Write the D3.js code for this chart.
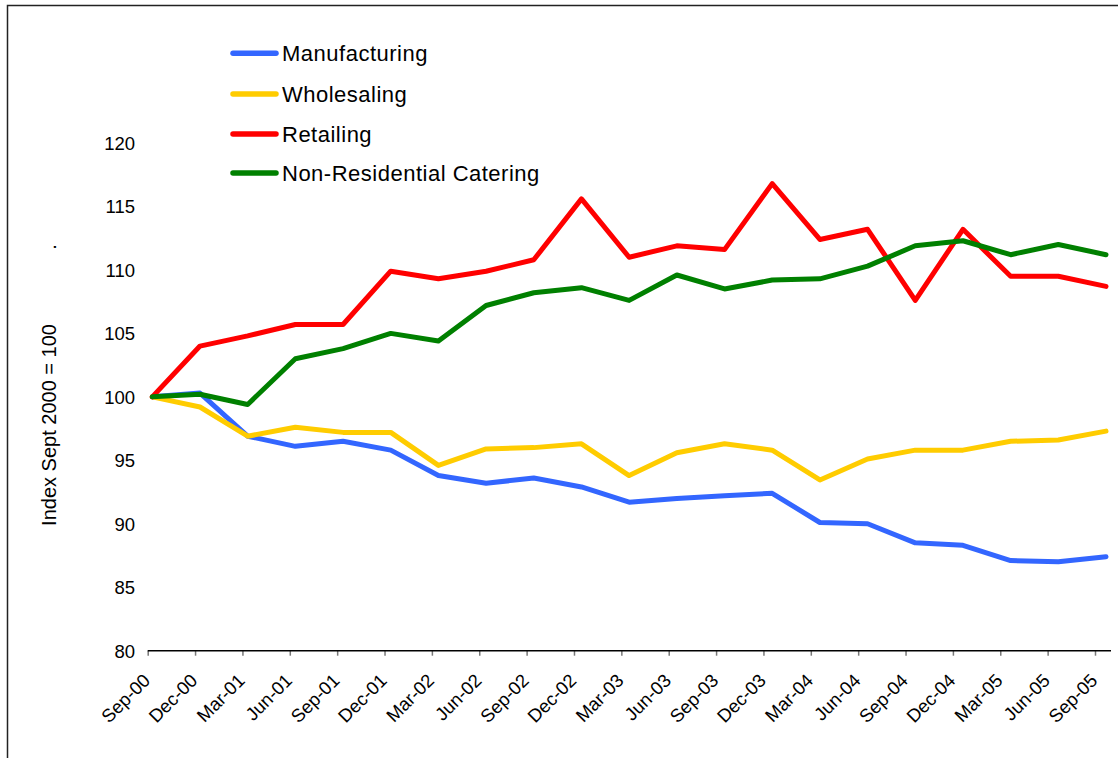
<!DOCTYPE html>
<html>
<head>
<meta charset="utf-8">
<script src="https://cdn.jsdelivr.net/npm/d3@7"></script>
<style>
  html, body { margin: 0; padding: 0; background: #ffffff; }
  svg { display: block; font-family: Arial, "Liberation Sans", sans-serif; }
</style>
</head>
<body>
<svg id="chart" width="1118" height="758"></svg>
<script>
// Quarterly periods
const quarters = ["Sep-00","Dec-00","Mar-01","Jun-01","Sep-01","Dec-01","Mar-02","Jun-02","Sep-02","Dec-02",
                  "Mar-03","Jun-03","Sep-03","Dec-03","Mar-04","Jun-04","Sep-04","Dec-04","Mar-05","Jun-05","Sep-05"];

// Index values (Sept 2000 = 100)
const manufacturing = [100, 100.3, 96.9, 96.1, 96.5, 95.8, 93.8, 93.2, 93.6, 92.9, 91.7, 92.0, 92.2, 92.4, 90.1, 90.0, 88.5, 88.3, 87.1, 87.0, 87.4];
const wholesaling   = [100, 99.2, 96.9, 97.6, 97.2, 97.2, 94.6, 95.9, 96.0, 96.3, 93.8, 95.6, 96.3, 95.8, 93.45, 95.1, 95.8, 95.8, 96.5, 96.6, 97.3];
const retailing     = [100, 104.0, 104.8, 105.7, 105.7, 109.9, 109.3, 109.9, 110.8, 115.6, 111.0, 111.9, 111.6, 116.8, 112.4, 113.2, 107.6, 113.2, 109.5, 109.5, 108.7];
const catering      = [100, 100.2, 99.4, 103.0, 103.8, 105.0, 104.4, 107.2, 108.2, 108.6, 107.6, 109.6, 108.5, 109.2, 109.3, 110.3, 111.9, 112.3, 111.2, 112.0, 111.2];

const seriesNames  = ["Manufacturing", "Wholesaling", "Retailing", "Non-Residential Catering"];
const seriesColors = ["#3366ff", "#ffcc00", "#ff0000", "#008000"];
const seriesValues = [manufacturing, wholesaling, retailing, catering];

const yTicks = [80, 85, 90, 95, 100, 105, 110, 115, 120];
const yTitle = "Index Sept 2000 = 100";

const svg = d3.select("#chart");

// Outer frame
svg.append("rect")
  .attr("x", 7.5).attr("y", 5.5)
  .attr("width", 1300).attr("height", 900)
  .attr("fill", "none").attr("stroke", "#222").attr("stroke-width", 1.5);

const plotBottom = 650.7, plotTop = 143, axisRight = 1111;

const y = d3.scaleLinear().domain([80, 120]).range([plotBottom, plotTop]);
const xLine = d3.scalePoint().domain(quarters).range([152.3, 1106]);
const xTick = d3.scalePoint().domain(quarters).range([147.7, 1095]);

// Y tick labels (no axis line)
const yAxis = svg.append("g")
  .attr("transform", `translate(135,0)`)
  .call(d3.axisLeft(y).tickValues(yTicks).tickSize(0).tickPadding(0));
yAxis.select(".domain").remove();
yAxis.selectAll("text")
  .attr("font-size", "18.5px")
  .attr("font-family", "Arial, 'Liberation Sans', sans-serif")
  .attr("fill", "#000")
  .attr("dy", "0.35em");

// Y title
svg.append("text")
  .attr("transform", `translate(56,425) rotate(-90)`)
  .attr("text-anchor", "middle")
  .attr("font-size", "20px")
  .attr("fill", "#000")
  .text(yTitle);
svg.append("text")
  .attr("transform", `translate(56,247) rotate(-90)`)
  .attr("text-anchor", "middle")
  .attr("font-size", "20px")
  .attr("fill", "#000")
  .text(".");

// X axis
const xAxis = svg.append("g")
  .attr("transform", `translate(0,${plotBottom})`)
  .call(d3.axisBottom(xTick).tickSize(5));
xAxis.select(".domain").remove();
xAxis.append("line")
  .attr("x1", xTick.range()[0]).attr("x2", axisRight)
  .attr("y1", 0).attr("y2", 0)
  .attr("stroke", "#000").attr("stroke-width", 1.5);
xAxis.selectAll(".tick line").attr("stroke", "#777").attr("stroke-width", 1.5);
xAxis.selectAll(".tick text")
  .attr("x", null).attr("y", null).attr("dy", null)
  .attr("text-anchor", "end")
  .attr("transform", "translate(3,31) rotate(-45)")
  .attr("font-size", "18.5px")
  .attr("font-family", "Arial, 'Liberation Sans', sans-serif")
  .attr("fill", "#000");

// Series lines
const line = d3.line()
  .x((d, i) => xLine(quarters[i]))
  .y(d => y(d));

svg.append("g").selectAll("path")
  .data(seriesValues)
  .join("path")
  .attr("d", line)
  .attr("fill", "none")
  .attr("stroke", (d, i) => seriesColors[i])
  .attr("stroke-width", 5)
  .attr("stroke-linejoin", "round")
  .attr("stroke-linecap", "round");

// Legend
const legend = svg.append("g");
const legendRows = [53.3, 94, 134, 173];
seriesNames.forEach((name, i) => {
  const g = legend.append("g").attr("transform", `translate(0,${legendRows[i]})`);
  g.append("line")
    .attr("x1", 233).attr("x2", 276)
    .attr("stroke", seriesColors[i]).attr("stroke-width", 5.5)
    .attr("stroke-linecap", "round");
  g.append("text")
    .attr("x", 282).attr("dy", "0.36em")
    .attr("font-size", "22px")
    .attr("letter-spacing", "0.5px")
    .attr("fill", "#000")
    .text(name);
});
</script>
</body>
</html>
